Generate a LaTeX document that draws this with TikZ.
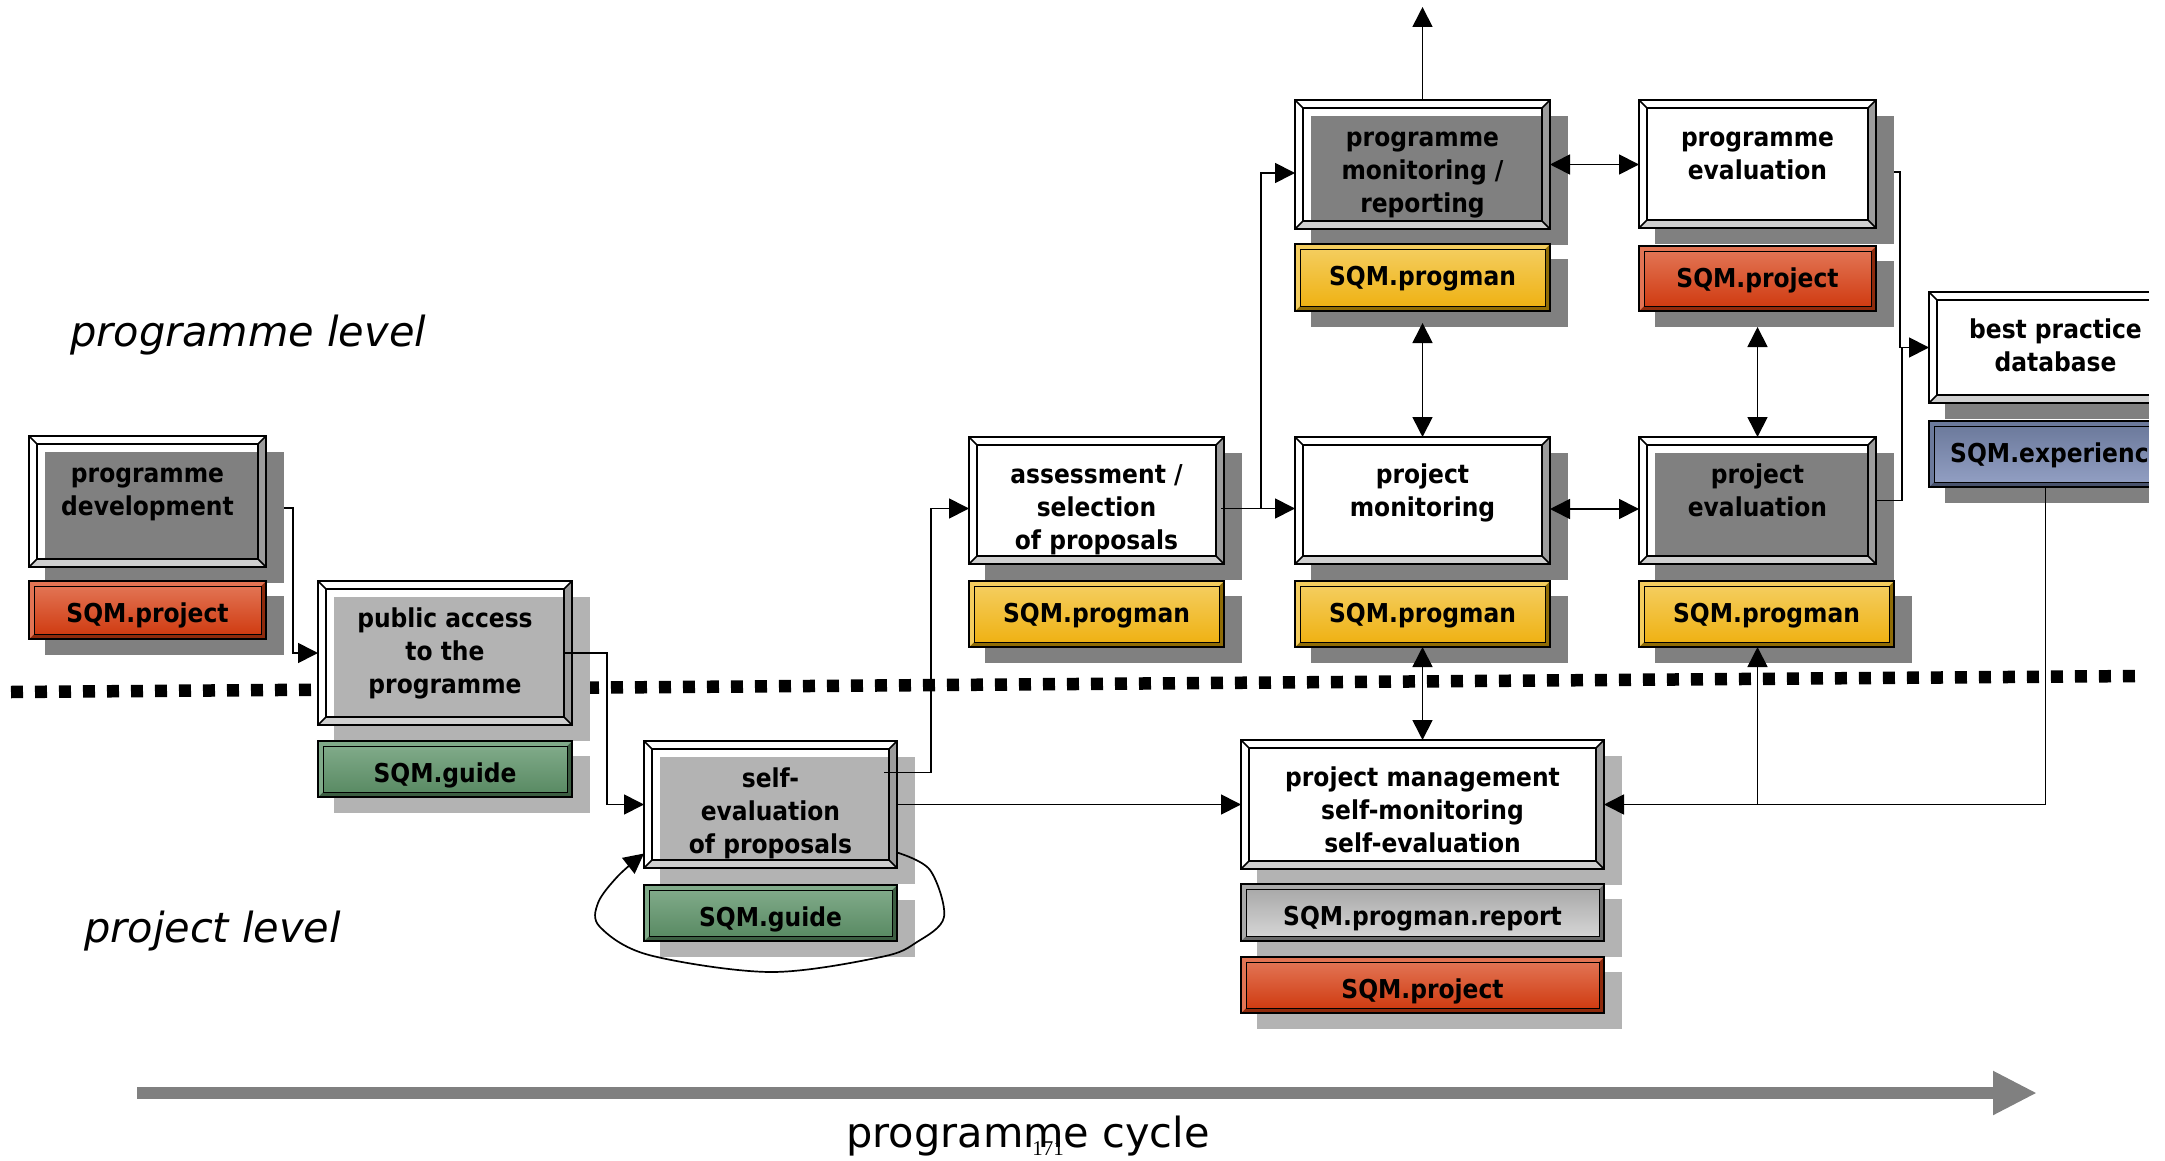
\documentclass[tikz,border=0pt]{standalone}
\usepackage{fontspec}
\setmainfont{DejaVu Sans}
\newfontfamily\sqmfont{DejaVu Sans Condensed}
\newfontfamily\pagenofont{Liberation Serif}
\usetikzlibrary{arrows.meta}

\pgfdeclarelayer{dots}
\pgfdeclarelayer{mask}
\pgfdeclarelayer{shade}
\pgfsetlayers{dots,mask,shade,main}

% shadows and bevels
\definecolor{shdark}{HTML}{808080}
\definecolor{shlight}{HTML}{B3B3B3}
\definecolor{bevR}{HTML}{9C9C9C}
\definecolor{bevB}{HTML}{CFCFCF}
% tag colours: top, bottom, dark edge
\definecolor{Rtop}{HTML}{E27454}\definecolor{Rbot}{HTML}{D03C12}\definecolor{Rdk}{HTML}{8E2A0C}
\definecolor{Ytop}{HTML}{F4CD5E}\definecolor{Ybot}{HTML}{EFB214}\definecolor{Ydk}{HTML}{8F6C06}
\definecolor{Gtop}{HTML}{80AA89}\definecolor{Gbot}{HTML}{5A8B64}\definecolor{Gdk}{HTML}{3C5E42}
\definecolor{Stop}{HTML}{A9A9A9}\definecolor{Sbot}{HTML}{D5D5D5}\definecolor{Sdk}{HTML}{6A6A6A}
\definecolor{Btop}{HTML}{6C7A9C}\definecolor{Bbot}{HTML}{919EC2}\definecolor{Bdk}{HTML}{48526C}
\definecolor{cycgray}{HTML}{808080}

% process box: name, x1, y1, x2, y2, shadow colour, interior fill
\newcommand\procbox[7]{%
  \begin{pgfonlayer}{mask}\fill[white] (#2,#3) rectangle (#4,#5);\end{pgfonlayer}
  \begin{pgfonlayer}{shade}\fill[#6] (#2+16,#3+16) rectangle (#4+18,#5+16);\end{pgfonlayer}
  \node[procframe, minimum width={#4-#2}, minimum height={#5-#3}, fill=#7] (#1) at ({(#2+#4)/2},{(#3+#5)/2}) {};
  \fill[white] (#2,#3) -- (#4,#3) -- (#4-8,#3+8) -- (#2+8,#3+8) -- (#2+8,#5-8) -- (#2,#5) -- cycle;
  \fill[bevR] (#4,#3) -- (#4,#5) -- (#4-8,#5-8) -- (#4-8,#3+8) -- cycle;
  \fill[bevB] (#2,#5) -- (#4,#5) -- (#4-8,#5-8) -- (#2+8,#5-8) -- cycle;
  \draw[bevline] (#2,#3) rectangle (#4,#5) (#2+8,#3+8) rectangle (#4-8,#5-8)
    (#2,#3) -- (#2+8,#3+8) (#4,#3) -- (#4-8,#3+8) (#4,#5) -- (#4-8,#5-8) (#2,#5) -- (#2+8,#5-8);
}

% SQM tag: name, x1, y1, x2, y2, shadow colour, colour set, label
\newcommand\tagbox[8]{%
  \begin{pgfonlayer}{shade}\fill[#6] (#2+16,#3+15) rectangle (#4+18,#5+16);\end{pgfonlayer}
  \fill[#7dk] (#2,#3) rectangle (#4,#5);
  \fill[#7top] (#2,#3) -- (#4,#3) -- (#4-5,#3+5) -- (#2+5,#3+5) -- (#2+5,#5-5) -- (#2,#5) -- cycle;
  \shade[top color=#7top, bottom color=#7bot] (#2+5,#3+5) rectangle (#4-5,#5-5);
  \draw[bevline] (#2,#3) rectangle (#4,#5);
  \draw[line width=1pt] (#2+5,#3+5) rectangle (#4-5,#5-5);
  \node[procframe, minimum width={#4-#2}, minimum height={#5-#3}] (#1) at ({(#2+#4)/2},{(#3+#5)/2}) {};
  \node[tagtext, anchor=base] (#1-t) at ([yshift=-41pt]#1.north) {#8};
}

\begin{document}
\begin{tikzpicture}[x=1pt,y=-1pt,
  procframe/.style={inner sep=0pt, outer sep=0pt, draw=none},
  bevline/.style={line width=1.6pt, line join=miter},
  boxtext/.style={anchor=north, align=center, inner sep=0pt,
    font=\sqmfont\bfseries\fontsize{26}{33}\selectfont},
  tagtext/.style={inner sep=0pt, font=\sqmfont\bfseries\fontsize{26}{32}\selectfont},
  conn/.style={line width=1.7pt, -{Triangle[length=20pt,width=20pt]}},
  dconn/.style={line width=1.7pt, {Triangle[length=20pt,width=20pt]}-{Triangle[length=20pt,width=20pt]}},
  plainline/.style={line width=1.7pt},
  levellabel/.style={inner sep=0pt, font=\fontsize{41.5}{50}\selectfont\itshape},
  cyclelabel/.style={inner sep=0pt, font=\fontsize{41.5}{50}\selectfont},
  pageno/.style={inner sep=0pt, font=\pagenofont\fontsize{21}{24}\selectfont},
  boundary/.style={line width=12.5pt, dash pattern=on 12pt off 12pt},
  cyclearrow/.style={line width=12pt, draw=cycgray, -{Triangle[length=44pt,width=41pt]}}
]
\useasboundingbox (0,0) rectangle (2165,1161);

% boundary between programme level and project level
\coordinate (dotA) at (11,692);
\coordinate (dotB) at (2140,676);
\begin{pgfonlayer}{dots}
  \draw[boundary] (dotA) -- (dotB);
\end{pgfonlayer}

% process boxes and their SQM tags
\procbox{pdev}{29}{436}{266}{567}{shdark}{none}
\tagbox{pdevtag}{29}{581}{266}{639}{shdark}{R}{SQM.project}

\procbox{pacc}{318}{581}{572}{725}{shlight}{none}
\tagbox{pacctag}{318}{741}{572}{797}{shlight}{G}{SQM.guide}

\procbox{seval}{644}{741}{897}{868}{shlight}{none}
\tagbox{sevaltag}{644}{885}{897}{941}{shlight}{G}{SQM.guide}

\procbox{assess}{969}{437}{1224}{564}{shdark}{white}
\tagbox{assesstag}{969}{581}{1224}{647}{shdark}{Y}{SQM.progman}

\procbox{pmon}{1295}{437}{1550}{564}{shdark}{white}
\tagbox{pmontag}{1295}{581}{1550}{647}{shdark}{Y}{SQM.progman}

\procbox{prmon}{1295}{100}{1550}{229}{shdark}{none}
\tagbox{prmontag}{1295}{244}{1550}{311}{shdark}{Y}{SQM.progman}

\procbox{preval}{1639}{100}{1876}{228}{shdark}{white}
\tagbox{prevaltag}{1639}{246}{1876}{311}{shdark}{R}{SQM.project}

\procbox{pjeval}{1639}{437}{1876}{564}{shdark}{none}
\tagbox{pjevaltag}{1639}{581}{1894}{647}{shdark}{Y}{SQM.progman}

\procbox{bpd}{1929}{292}{2162}{403}{shdark}{white}
\tagbox{bpdtag}{1929}{421}{2162}{487}{shdark}{B}{}
\node[tagtext, anchor=base west] (bpdtag-l) at (1950,462) {SQM.experienc};

\procbox{pm}{1241}{740}{1604}{869}{shlight}{white}
\tagbox{pmtag}{1241}{884}{1604}{941}{shlight}{S}{SQM.progman.report}
\tagbox{pmtagb}{1241}{957}{1604}{1013}{shlight}{R}{SQM.project}

% box texts
\node[boxtext] (pdev-t)   at ([yshift=-22.9pt]pdev.north)   {\strut programme\\development};
\node[boxtext] (pacc-t)   at ([yshift=-22.9pt]pacc.north)   {\strut public access\\to the\\programme};
\node[boxtext] (seval-t)  at ([yshift=-22.9pt]seval.north)  {\strut self-\\evaluation\\of proposals};
\node[boxtext] (assess-t) at ([yshift=-22.9pt]assess.north) {\strut assessment /\\selection\\of proposals};
\node[boxtext] (pmon-t)   at ([yshift=-22.9pt]pmon.north)   {\strut project\\monitoring};
\node[boxtext] (prmon-t)  at ([yshift=-22.9pt]prmon.north)  {\strut programme\\monitoring /\\reporting};
\node[boxtext] (preval-t) at ([yshift=-22.9pt]preval.north) {\strut programme\\evaluation};
\node[boxtext] (pjeval-t) at ([yshift=-22.9pt]pjeval.north) {\strut project\\evaluation};
\node[boxtext] (bpd-t)    at ([xshift=10pt,yshift=-22.9pt]bpd.north) {\strut best practice\\database};
\node[boxtext] (pm-t)     at ([yshift=-22.9pt]pm.north)     {\strut project management\\self-monitoring\\self-evaluation};

% connectors
\draw[conn] ([xshift=18pt,yshift=-6.5pt]pdev.east) -- ++(9,0) |- (pacc.west);
\draw[conn] ([xshift=-9pt]pacc.east) -- ++(44,0) |- (seval.west);
\draw[conn] ([xshift=-13pt,yshift=32pt]seval.east) -- ++(47,0) |- ([yshift=-8pt]assess.west);
\draw[conn] (seval.east) -- (pm.west);
\draw[conn] ([xshift=-3pt,yshift=-8pt]assess.east) -- ([yshift=-8pt]pmon.west);
\coordinate (split) at ([xshift=37pt,yshift=-8pt]assess.east);
\draw[conn] (split) |- ([yshift=-8.5pt]prmon.west);
\coordinate (exit) at ([yshift=93pt]prmon.north);
\draw[conn] (prmon.north) -- (exit);
\draw[dconn] (prmon.east) -- (prmon.east -| preval.west);
\draw[dconn] ([yshift=-12pt]prmontag.south) -- (pmon.north);
\draw[dconn] ([yshift=-16pt]prevaltag.south) -- (pjeval.north);
\draw[dconn] ([yshift=-8.5pt]pmon.east) -- ([yshift=-8.5pt]pjeval.west);
\draw[dconn] (pmontag.south) -- (pm.north);
\draw[conn] (bpdtag.south) |- (pm.east);
\draw[conn] (pjeval.south |- pm.east) -- (pjeval.south |- pjevaltag.south);
\draw[conn] ([xshift=18pt,yshift=-8pt]preval.east) -- ++(6,0) |- (bpd.west);
\draw[plainline] (pjeval.east) -- ++(26,0) |- ([xshift=-27pt]bpd.west);

% self-evaluation loop
\draw[conn] plot[smooth, tension=0.55] coordinates {([yshift=-48pt]seval.east) (930,870) (944,917) (917,942) (881,957) (770,972) (649,955) (600,927) (598,903) (618,876) ([yshift=-49pt]seval.west)};

% right edge of the sheet
\fill[white] (2149,0) rectangle (2165,1161);

% level labels
\node[levellabel, anchor=base west] (lvlprog) at (70,346) {programme level};
\node[levellabel, anchor=base west] (lvlproj) at (84,942) {project level};

% programme cycle arrow
\coordinate (cycA) at (137,1093);
\coordinate (cycB) at (2037,1093);
\draw[cyclearrow] (cycA) -- (cycB);
\node[cyclelabel, anchor=base] (cyclab) at (1028,1147) {programme cycle};
\node[pageno, anchor=base] (pgno) at (1048,1155) {171};
\end{tikzpicture}
\end{document}
